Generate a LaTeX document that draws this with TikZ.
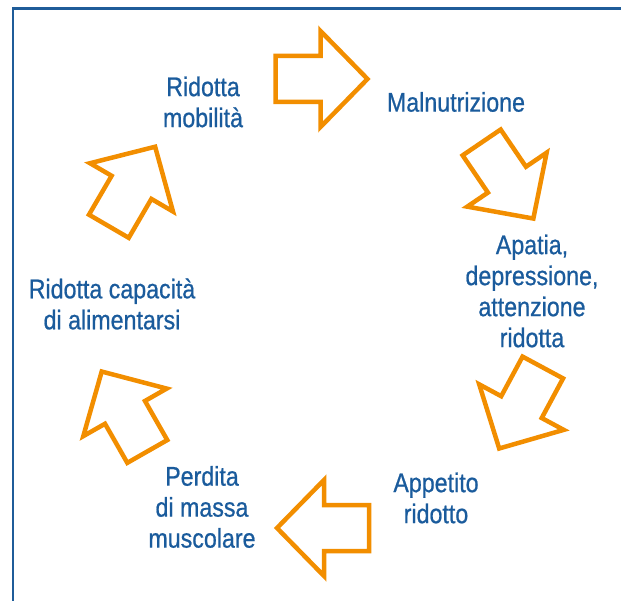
\documentclass[tikz,border=0pt]{standalone}
\usepackage{fontspec}
\setmainfont{Liberation Sans}[FakeStretch=0.86,FakeBold=0.7]
\definecolor{frameblue}{HTML}{1F5C99}
\definecolor{textblue}{HTML}{1A5B9C}
\definecolor{cycleorange}{HTML}{F28E00}
\tikzset{
  stage/.style={text=textblue, font=\fontsize{27}{31}\selectfont, align=center, inner sep=0pt},
  cyclearrow/.pic={
    \draw[cycleorange, line width=4.5pt]
      (-46,-23) -- (-1,-23) -- (-1,-48) -- (46,0) -- (-1,48) -- (-1,23) -- (-46,23) -- cycle;
  }
}
\begin{document}
\begin{tikzpicture}[x=1pt,y=1pt]
  \useasboundingbox (0,0) rectangle (621,600);
  \clip (0,0) rectangle (621,600);
  % cornice
  \draw[frameblue, line width=2.5pt] (12.8,-5) -- (12.8,591.5) -- (630,591.5);
  % fasi del ciclo
  \node[stage] (mobilita) at (203,498) {Ridotta\\mobilità};
  \node[stage] (malnutrizione) at (456,498) {Malnutrizione};
  \node[stage] (apatia) at (532,309) {Apatia,\\depressione,\\attenzione\\ridotta};
  \node[stage] (appetito) at (436,102) {Appetito\\ridotto};
  \node[stage] (perdita) at (202,93) {Perdita\\di massa\\muscolare};
  \node[stage] (capacita) at (112,296) {Ridotta capacità\\di alimentarsi};
  % frecce
  \pic at (321.5,521) {cyclearrow};
  \pic[rotate=-55.8] at (507.5,419.5) {cyclearrow};
  \pic[rotate=-118.3] at (521,192) {cyclearrow};
  \pic[rotate=180] at (323,72) {cyclearrow};
  \pic[rotate=119.7] at (124.5,188.5) {cyclearrow};
  \pic[rotate=59.8] at (132,413.5) {cyclearrow};
\end{tikzpicture}
\end{document}
